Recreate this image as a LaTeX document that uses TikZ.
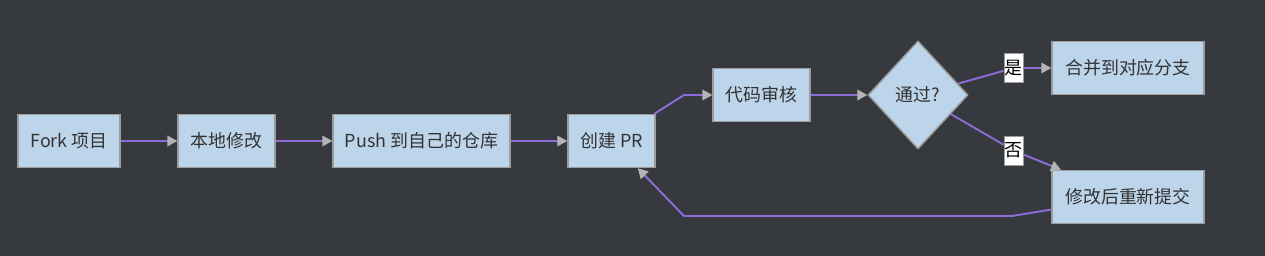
\documentclass[tikz,border=0pt]{standalone}
\usepackage{fontspec}
\setmainfont{Noto Sans CJK SC}
\usetikzlibrary{shapes.geometric,arrows.meta}
\definecolor{bgdark}{HTML}{363A3F}
\definecolor{boxfill}{HTML}{BDD5EA}
\definecolor{boxline}{HTML}{9C9C9C}
\definecolor{linkcol}{HTML}{8E6BD6}
\definecolor{tipcol}{HTML}{B4B4B4}
\definecolor{textcol}{HTML}{333333}
\begin{document}
\begin{tikzpicture}[x=0.02cm, y=-0.02cm,
  box/.style={draw=boxline, line width=0.8pt, fill=boxfill, text=textcol, minimum height=1.06cm, inner sep=0pt, font=\fontsize{10.2}{12}\selectfont},
  tag/.style={draw=boxline, line width=0.5pt, fill=white, text=black, minimum width=0.38cm, minimum height=0.58cm, inner sep=0pt, font=\fontsize{10.2}{12}\selectfont},
  link/.style={draw=linkcol, line width=1.1pt},
  arr/.style={link, -{Triangle[length=5.7pt, width=6pt, color=tipcol]}}]
  \fill[bgdark] (0,0) rectangle (1265,256);
  % main line
  \node[box, minimum width=2.04cm] (fork) at (69,141) {Fork 项目};
  \node[box, minimum width=1.94cm] (local) at (226.5,141) {本地修改};
  \node[box, minimum width=3.54cm] (push) at (421.5,141) {Push 到自己的仓库};
  \node[box, minimum width=1.74cm] (pr) at (611.5,141) {创建 PR};
  \node[box, minimum width=1.94cm] (review) at (761.5,95) {代码审核};
  \node[diamond, draw=boxline, line width=0.8pt, fill=boxfill, text=textcol, inner sep=0pt, minimum width=2cm, minimum height=2.16cm, font=\fontsize{10.2}{12}\selectfont] (pass) at (918,95) {通过?};
  \node[box, minimum width=3.04cm] (merge) at (1128,68) {合并到对应分支};
  \node[box, minimum width=3.04cm] (rework) at (1128,197) {修改后重新提交};
  \coordinate (up) at (684,95);
  \coordinate (back1) at (1012,216);
  \coordinate (back2) at (684,216);
  \draw[arr] (fork) -- (local);
  \draw[arr] (local) -- (push);
  \draw[arr] (push) -- (pr);
  \draw[arr] (pr) -- (up) -- (review);
  \draw[arr] (review) -- (pass);
  \draw[arr] (rework) -- (back1) -- (back2) -- (pr);
  % yes / no
  \node[tag] (yes) at (1013.5,68) {是};
  \node[tag] (no) at (1013.5,150.5) {否};
  \draw[link] (pass) -- (yes);
  \draw[arr] (yes) -- (merge);
  \draw[link] (pass) -- (no);
  \draw[arr] (no) -- (rework);
\end{tikzpicture}
\end{document}
